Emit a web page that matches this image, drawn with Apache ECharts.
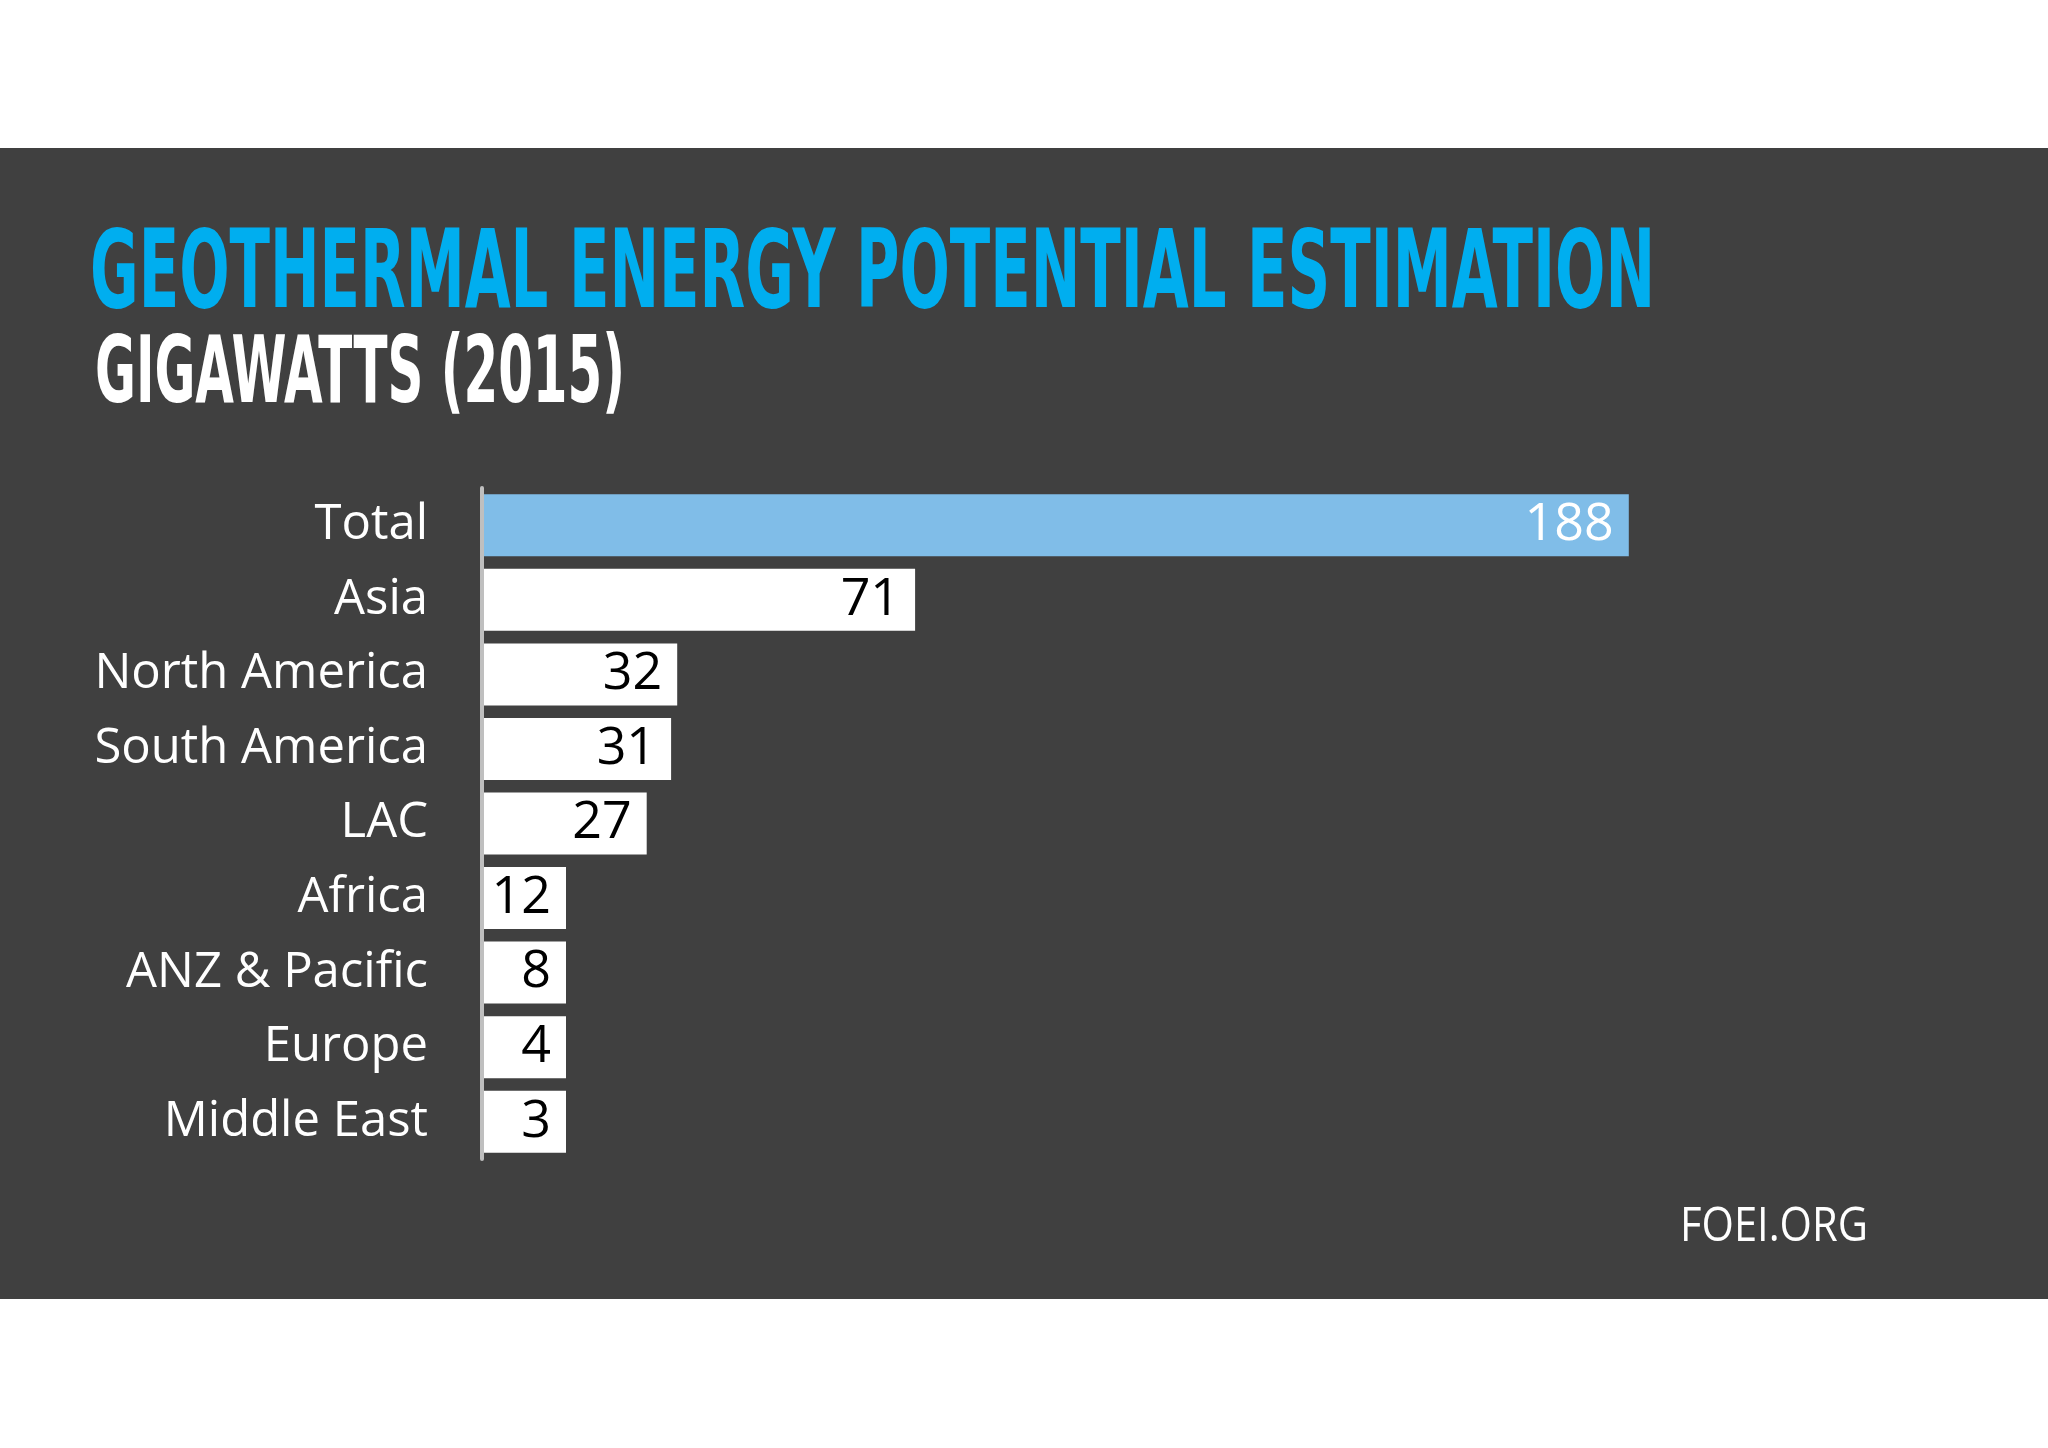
<!DOCTYPE html>
<html>
<head>
<meta charset="utf-8">
<script src="https://cdn.jsdelivr.net/npm/echarts@6/dist/echarts.min.js"></script>
<style>
html,body{margin:0;padding:0;background:#ffffff;}
#chart{width:2048px;height:1448px;}
</style>
</head>
<body>
<div id="chart"></div>
<script>
// ---- data ----
const categories = ['Total', 'Asia', 'North America', 'South America', 'LAC', 'Africa', 'ANZ & Pacific', 'Europe', 'Middle East'];
const values = [188, 71, 32, 31, 27, 12, 8, 4, 3];
const titleText = 'GEOTHERMAL ENERGY POTENTIAL ESTIMATION';
const subtitleText = 'GIGAWATTS (2015)';
const sourceText = 'FOEI.ORG';

// ---- helpers ----
const COND = '"Liberation Sans Narrow", "DejaVu Sans Condensed", "Liberation Sans", "DejaVu Sans", sans-serif';
const measureCtx = document.createElement('canvas').getContext('2d');
function fitScale(text, weight, size, family, targetWidth) {
  measureCtx.font = weight + ' ' + size + 'px ' + family;
  const w = measureCtx.measureText(text).width;
  return targetWidth / w;
}

const titleSize = 108, subSize = 92, srcSize = 47;
const titleScale = fitScale(titleText, 'bold', titleSize, COND, 1565);
const subScale = fitScale(subtitleText, 'bold', subSize, COND, 530);
const srcScale = fitScale(sourceText, 'normal', srcSize, '"Open Sans"', 188);

const seriesData = values.map((v, i) => i === 0
  ? { value: v, itemStyle: { color: '#80BDE8' }, label: { color: '#ffffff' } }
  : { value: v });

const chart = echarts.init(document.getElementById('chart'), null, { renderer: 'canvas' });
chart.setOption({
  backgroundColor: '#ffffff',
  animation: false,
  graphic: [
    { type: 'rect', z: -10, shape: { x: 0, y: 148, width: 2048, height: 1151 }, style: { fill: '#404040' } },
    { type: 'text', z: 10, x: 90, y: 279, scaleX: titleScale,
      style: { text: titleText, fill: '#00AEEF', font: 'bold ' + titleSize + 'px ' + COND, textAlign: 'left', verticalAlign: 'middle' } },
    { type: 'text', z: 10, x: 95, y: 378, scaleX: subScale,
      style: { text: subtitleText, fill: '#ffffff', font: 'bold ' + subSize + 'px ' + COND, textAlign: 'left', verticalAlign: 'middle' } },
    { type: 'text', z: 10, x: 1680, y: 1228, scaleX: srcScale,
      style: { text: sourceText, fill: '#ffffff', font: 'normal ' + srcSize + 'px "Open Sans"', textAlign: 'left', verticalAlign: 'middle' } }
  ],
  grid: { left: 482, right: 346, top: 488, height: 671, containLabel: false },
  xAxis: { type: 'value', min: 0, max: 200, show: false, splitLine: { show: false } },
  yAxis: {
    type: 'category', inverse: true, data: categories, z: 10,
    axisLine: { show: true, lineStyle: { color: '#BFBFBF', width: 4 } },
    axisTick: { show: false },
    splitLine: { show: false },
    axisLabel: { color: '#ffffff', fontFamily: '"Open Sans"', fontSize: 49, margin: 54 }
  },
  series: [{
    type: 'bar',
    data: seriesData,
    barWidth: 62,
    barMinHeight: 84,
    itemStyle: { color: '#ffffff' },
    label: { show: true, position: 'insideRight', distance: 15, color: '#000000', fontFamily: '"Open Sans"', fontSize: 52 }
  }]
});
</script>
</body>
</html>
